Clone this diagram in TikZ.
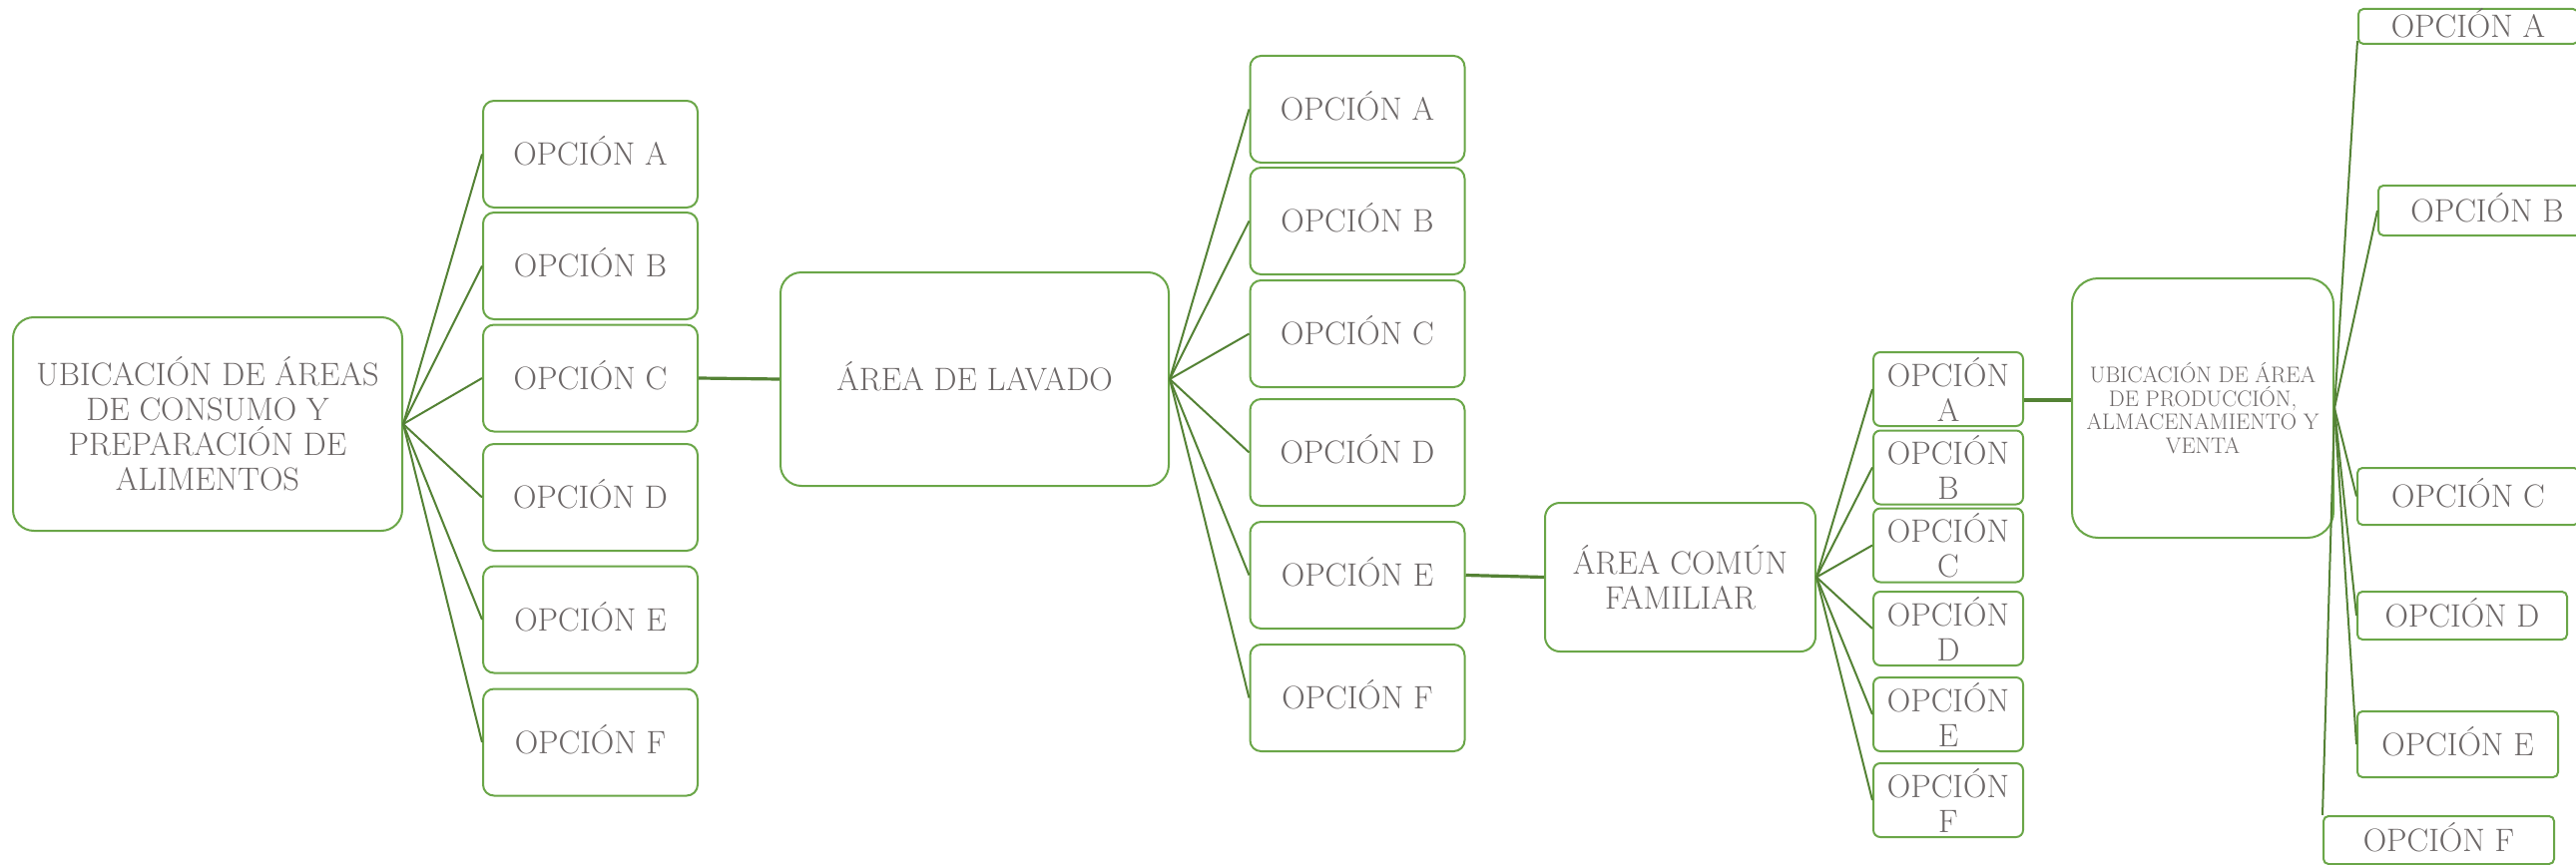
\documentclass[tikz,border=0pt]{standalone}
\usepackage{fontspec}
\definecolor{verdeborde}{RGB}{106,166,72}
\definecolor{verdelinea}{RGB}{84,130,53}
\definecolor{grisletra}{RGB}{108,103,103}

\begin{document}
\begin{tikzpicture}[x=1pt, y=-1pt,
  caja/.style={draw=verdeborde, line width=2pt, text=grisletra, inner sep=0pt,
    font=\fontsize{32.5}{35}\selectfont},
  opcion/.style={caja, minimum width=215pt, minimum height=107pt, rounded corners=11pt,
    text height=22pt, text depth=0pt},
  opcionb/.style={caja, align=center, minimum width=150pt, minimum height=74pt, rounded corners=7pt},
  lado/.style={caja, rounded corners=5pt, text height=22pt, text depth=0pt},
  enlace/.style={draw=verdelinea, line width=2pt},
  puente/.style={draw=verdelinea, line width=3.2pt}]
  \useasboundingbox (0,0) rectangle (2581,867);
  \node[caja, align=center, minimum width=390pt, minimum height=214pt, rounded corners=21pt]
    (raiz) at (208,425) {UBICACIÓN DE ÁREAS\\DE CONSUMO Y\\PREPARACIÓN DE\\ALIMENTOS};
  \node[caja, minimum width=389pt, minimum height=214pt, rounded corners=21pt,
    text height=22pt, text depth=0pt] (lavado) at (976.5,380) {ÁREA DE LAVADO};
  \node[caja, align=center, minimum width=271pt, minimum height=149pt, rounded corners=15pt]
    (familiar) at (1683.5,578.5) {ÁREA COMÚN\\FAMILIAR};
  \node[caja, align=center, minimum width=262pt, minimum height=260pt, rounded corners=26pt,
    font=\fontsize{22.5}{23.5}\selectfont]
    (produccion) at (2207,409) {UBICACIÓN DE ÁREA\\DE PRODUCCIÓN,\\ALMACENAMIENTO Y\\VENTA};
  \foreach \l/\y in {A/154.5,B/266.5,C/379,D/498.5,E/621,F/744}
  {
    \node[opcion] (u\l) at (591.5,\y) {OPCIÓN \l};
    \draw[enlace] (raiz.east) -- (u\l.west);
  }
  \foreach \l/\y in {A/109.5,B/221.5,C/334.5,D/453.5,E/576.5,F/699.5}
  {
    \node[opcion] (l\l) at (1360,\y) {OPCIÓN \l};
    \draw[enlace] (lavado.east) -- (l\l.west);
  }
  \foreach \l/\y in {A/390,B/468.5,C/546.5,D/630,E/716,F/802}
  {
    \node[opcionb] (f\l) at (1952,\y) {OPCIÓN\\\l};
    \draw[enlace] (familiar.east) -- (f\l.west);
  }
  \foreach \l/\x/\y/\w/\h in {A/2473/26.5/220/35,B/2492/211/218/50,C/2473/497.5/222/57,
    D/2467/617/210/48,E/2462.5/746/201/66,F/2443.5/842/231/48}
    \node[lado, minimum width=\w pt, minimum height=\h pt] (p\l) at (\x,\y) {OPCIÓN \l};
  \draw[enlace] (produccion.east) -- ([yshift=4pt]pA.south west);
  \foreach \l in {B,C,D,E}
    \draw[enlace] (produccion.east) -- (p\l.west);
  \draw[enlace] (produccion.east) -- (pF.north west);
  \draw[puente] (uC.east) -- (lavado.west);
  \draw[puente] (lE.east) -- (familiar.west);
  \draw[puente] ([yshift=-11pt]fA.east) -- ([yshift=-11pt]fA.east -| produccion.west);
\end{tikzpicture}
\end{document}
